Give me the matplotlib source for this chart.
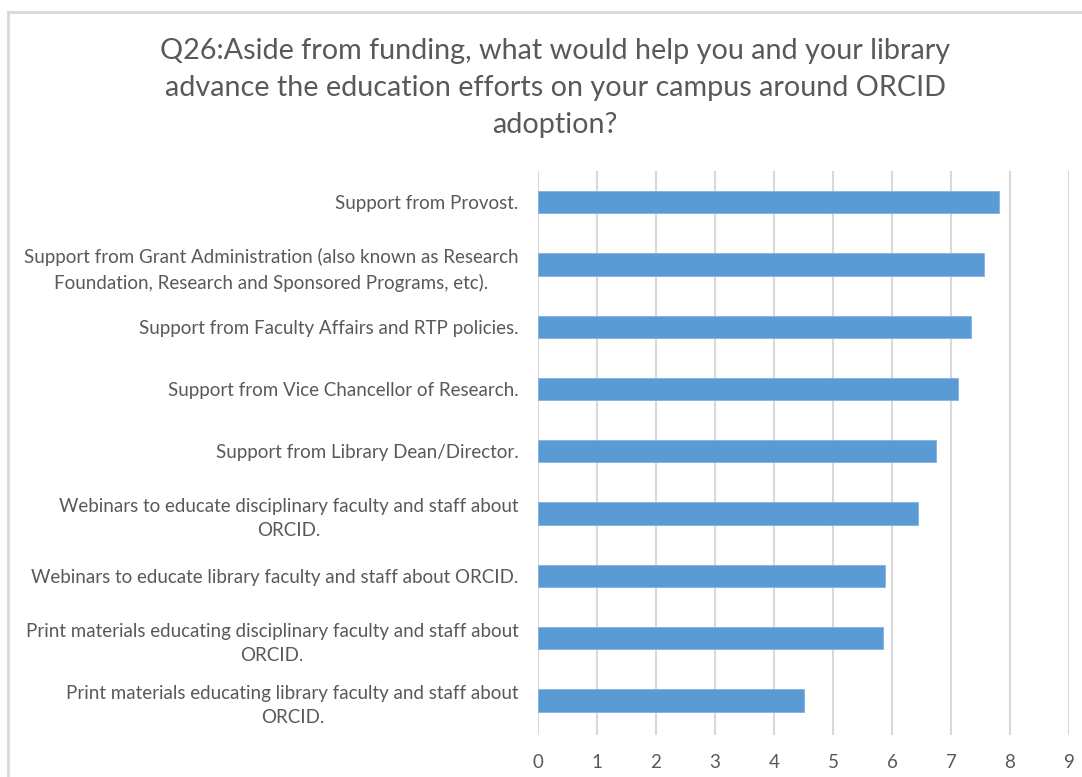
import matplotlib
matplotlib.use("Agg")
import matplotlib.pyplot as plt
from matplotlib.lines import Line2D

categories = [
    "Support from Provost.",
    "Support from Grant Administration (also known as Research\nFoundation, Research and Sponsored Programs, etc).",
    "Support from Faculty Affairs and RTP policies.",
    "Support from Vice Chancellor of Research.",
    "Support from Library Dean/Director.",
    "Webinars to educate disciplinary faculty and staff about\nORCID.",
    "Webinars to educate library faculty and staff about ORCID.",
    "Print materials educating disciplinary faculty and staff about\nORCID.",
    "Print materials educating library faculty and staff about\nORCID.",
]
values = [7.82, 7.56, 7.34, 7.12, 6.75, 6.44, 5.88, 5.84, 4.51]
xticks = [0, 1, 2, 3, 4, 5, 6, 7, 8, 9]
title = ("Q26:Aside from funding, what would help you and your library\n"
         "advance the education efforts on your campus around ORCID\nadoption?")

plt.rcParams['font.family'] = ['Lato', 'DejaVu Sans']
W, H = 1082, 777
fig = plt.figure(figsize=(W / 100, H / 100), dpi=100)
fig.patch.set_facecolor('white')

# chart border
fig.add_artist(Line2D([8 / W, 8 / W], [1 - 12 / H, 0], transform=fig.transFigure,
                      color='#d9d9d9', lw=2))
fig.add_artist(Line2D([8 / W, 1], [1 - 12 / H, 1 - 12 / H], transform=fig.transFigure,
                      color='#d9d9d9', lw=2))

ax = fig.add_axes([538 / W, 1 - 735 / H, (1069 - 538) / W, (735 - 171) / H])
ypos = list(range(len(categories)))
ax.barh(ypos, values, height=0.36, color='#5b9bd5', edgecolor='#7fb2e0', linewidth=0.6, zorder=3)
ax.set_xlim(0, 9)
ax.set_ylim(8.555, -0.5)
ax.set_xticks(xticks)
ax.set_xticklabels([str(t) for t in xticks])
ax.set_yticks(ypos)
ax.set_yticklabels(categories, fontsize=13.5, color='#595959', linespacing=1.5,
                   multialignment='center')
ax.tick_params(axis='x', length=0, pad=14, labelsize=13.5, labelcolor='#595959')
ax.tick_params(axis='y', length=0, pad=14)
ax.grid(axis='x', color='#d9d9d9', lw=1.5, zorder=0)
for s in ax.spines.values():
    s.set_visible(False)

fig.text(555 / W, 1 - 88 / H, title, ha='center', va='center', fontsize=20.7,
         color='#595959', linespacing=1.5)

fig.savefig('out.png', dpi=100)
